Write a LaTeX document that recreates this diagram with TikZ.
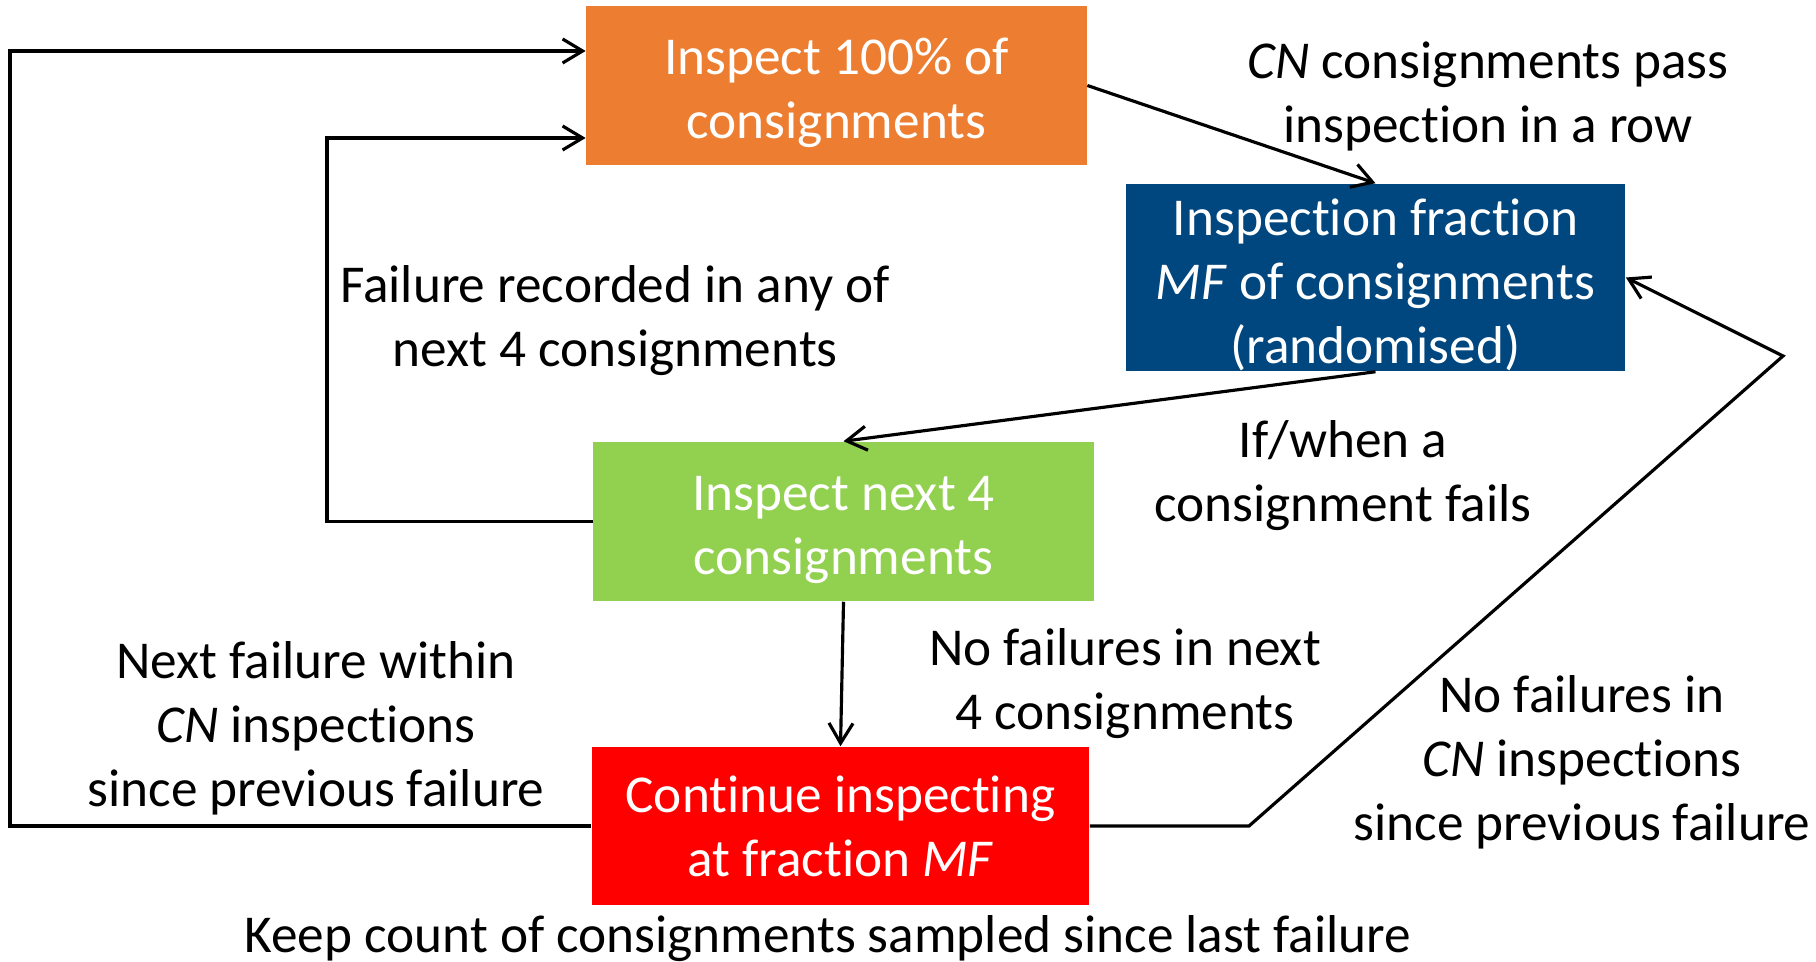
\documentclass[tikz,border=0pt]{standalone}
\usepackage{fontspec}
\setmainfont{Carlito}[Ligatures=NoCommon]
\usetikzlibrary{arrows.meta}
\newcommand\topgap{\rule{0pt}{14.5pt}}

\begin{document}
\begin{tikzpicture}[x=0.01cm,y=-0.01cm,
  box/.style={fill=#1,text=white,minimum width=5cm,minimum height=1.59cm,align=center,inner sep=0pt},
  lbl/.style={align=center,inner sep=0pt,yshift=-1pt},
  line/.style={line width=0.9pt},
  arr/.style={line, -{Straight Barb[length=2mm,width=2.4mm,line width=0.9pt]}}]
\fontsize{15.15}{18.2}\selectfont
\definecolor{orng}{HTML}{ED7D31}
\definecolor{blu}{HTML}{00467F}
\definecolor{grn}{HTML}{92D050}
\useasboundingbox (0,0) rectangle (1816,961);
\node[box=orng] (a) at (836.5,85.5) {\topgap Inspect 100\% of\\consignments};
\node[box=blu, minimum width=4.99cm, minimum height=1.87cm] (b) at (1375.5,277.5) {\topgap Inspection fraction\\\textit{MF} of consignments\\(randomised)};
\node[box=grn] (c) at (843.5,521.5) {\topgap Inspect next 4\\consignments};
\node[box=red, minimum width=4.97cm, minimum height=1.58cm] (d) at (840.5,826) {Continue inspecting\\at fraction \textit{MF}};
\node[lbl] at (1488,93) {\textit{CN} consignments pass\\inspection in a row};
\node[lbl] at (615,317) {Failure recorded in any of\\next 4 consignments};
\node[lbl] at (1343,472) {If/when a\\consignment fails};
\node[lbl] at (1125,680) {No failures in next\\4 consignments};
\node[lbl] at (316,725) {Next failure within\\\textit{CN} inspections\\since previous failure};
\node[lbl] at (1582,759) {No failures in\\\textit{CN} inspections\\since previous failure};
\node[lbl] at (828,935) {Keep count of consignments sampled since last failure};
\coordinate (p) at (10,51);
\coordinate (q) at (327,138);
\coordinate (r) at (1249,826);
\coordinate (s) at (1783,356);
\draw[arr] (a.east) -- (b.north);
\draw[arr] (b.south) -- (c.north);
\draw[arr] (c.south) -- (d.north);
\draw[arr] (d.east) -- (r) -- (s) -- (b.east);
\draw[arr] (d.west) -| (p) -- (p -| a.west);
\draw[arr] (c.west) -| (q) -- (q -| a.west);
\end{tikzpicture}
\end{document}
